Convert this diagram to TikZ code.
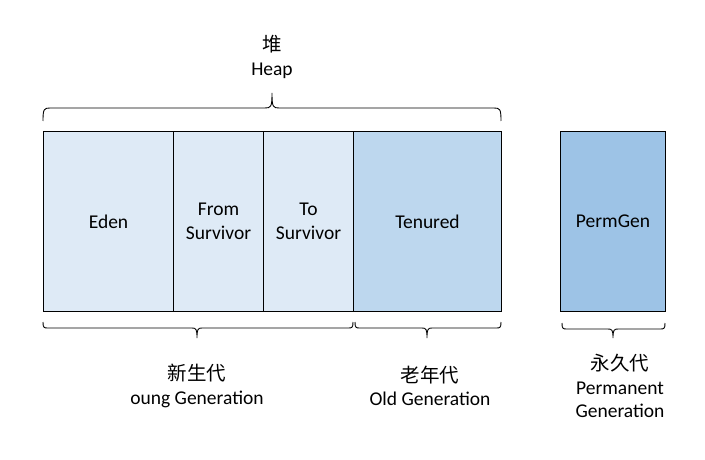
\documentclass[tikz,border=0pt]{standalone}
\usepackage{fontspec}
\setmainfont{Carlito}
\newfontfamily\cjk{Noto Sans CJK SC}
\definecolor{lightb}{HTML}{DEEAF6}
\definecolor{midb}{HTML}{BDD7EE}
\definecolor{darkb}{HTML}{9DC3E6}
\begin{document}
\begin{tikzpicture}[x=1pt,y=-1pt,
  every node/.style={font=\fontsize{19.5}{23.5}\selectfont, align=center, inner sep=0pt},
  region/.style={draw=black, line width=1pt, anchor=north west, minimum height=180pt},
  bracepath/.style={draw=black, line width=0.9pt},
  lbl/.style={text=black}]
\useasboundingbox (0,0) rectangle (705,460);
% boxes
\node[region, fill=lightb, minimum width=130pt] (eden) at (43,131) {};
\node[region, fill=lightb, minimum width=90pt] (from) at (173,131) {};
\node[region, fill=lightb, minimum width=90pt] (to) at (263,131) {};
\node[region, fill=midb, minimum width=148pt] (ten) at (353,131) {};
\node[region, fill=darkb, minimum width=105pt] (perm) at (560,131) {};
% box labels
\node[lbl] (edenl) at (eden.center) {Eden};
\node[lbl] (froml) at (from.center) {From\\Survivor};
\node[lbl] (tol) at (to.center) {To\\Survivor};
\node[lbl] (tenl) at (ten.center) {Tenured};
\node[lbl] (perml) at (perm.center) {PermGen};
% top brace
\coordinate (tL) at (43,121);
\coordinate (tR) at (501,121);
\coordinate (tT) at (272,93);
\path[bracepath] (tL) .. controls (43,109) and (44,108) .. (50,108) -- (265,108)
  .. controls (271,108) and (272,107) .. (tT)
  .. controls (272,107) and (273,108) .. (279,108) -- (494,108)
  .. controls (500,108) and (501,109) .. (tR);
\node[lbl] (heap) at (272,57) {{\cjk 堆}\\Heap};
% young brace
\coordinate (yL) at (43,322);
\coordinate (yR) at (353,322);
\coordinate (yT) at (197,338);
\path[bracepath] (yL) .. controls (43,328) and (44,328) .. (48,328) -- (192,328)
  .. controls (196,328) and (197,329) .. (yT)
  .. controls (197,329) and (198,328) .. (202,328) -- (348,328)
  .. controls (352,328) and (353,328) .. (yR);
\node[lbl] (young) at (197,386) {{\cjk 新生代}\\oung Generation};
% old brace
\coordinate (oL) at (355,322);
\coordinate (oR) at (501,322);
\coordinate (oT) at (427,338);
\path[bracepath] (oL) .. controls (355,328) and (356,328) .. (360,328) -- (422,328)
  .. controls (426,328) and (427,329) .. (oT)
  .. controls (427,329) and (428,328) .. (432,328) -- (496,328)
  .. controls (500,328) and (501,328) .. (oR);
\node[lbl] (old) at (430,386) {{\cjk 老年代}\\Old Generation};
% perm brace
\coordinate (pL) at (562,323);
\coordinate (pR) at (665,323);
\coordinate (pT) at (613,338);
\path[bracepath] (pL) .. controls (562,329) and (563,329) .. (567,329) -- (608,329)
  .. controls (612,329) and (613,330) .. (pT)
  .. controls (613,330) and (614,329) .. (618,329) -- (660,329)
  .. controls (664,329) and (665,329) .. (pR);
\node[lbl] (permg) at (620,386) {{\cjk 永久代}\\Permanent\\Generation};
\end{tikzpicture}
\end{document}
